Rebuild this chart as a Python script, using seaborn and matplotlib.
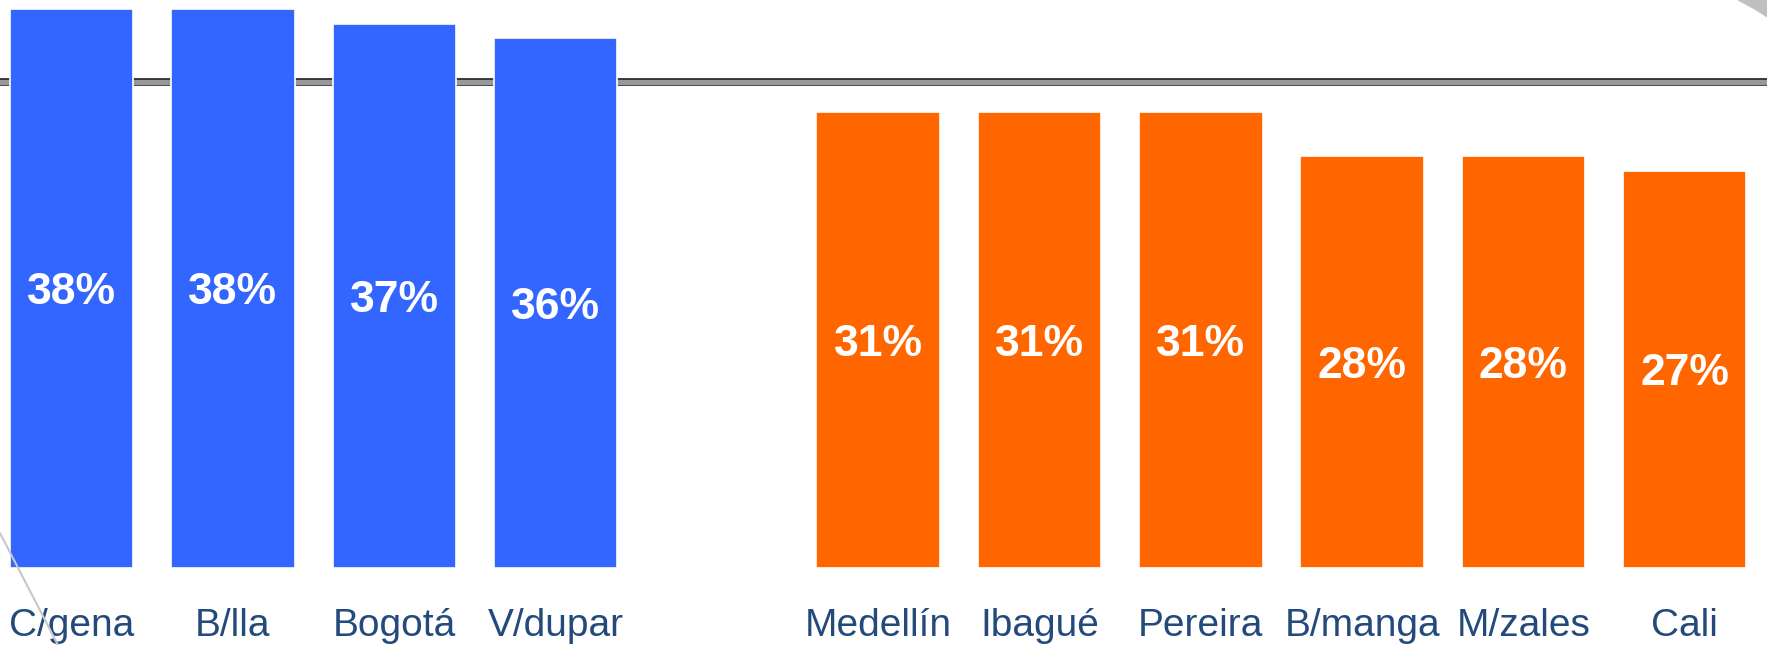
import seaborn as sns
import matplotlib.pyplot as plt
import pandas as pd
from matplotlib.lines import Line2D
from matplotlib.patches import Polygon
import matplotlib.patheffects as pe

# data
cities_blue = ["C/gena", "B/lla", "Bogotá", "V/dupar"]
values_blue = [38, 38, 37, 36]
cities_orange = ["Medellín", "Ibagué", "Pereira", "B/manga", "M/zales", "Cali"]
values_orange = [31, 31, 31, 28, 28, 27]
ref_level = 33

df = pd.DataFrame({
    "city": cities_blue + cities_orange,
    "value": values_blue + values_orange,
    "group": ["blue"] * len(cities_blue) + ["orange"] * len(cities_orange),
})
order = cities_blue + [" "] + cities_orange

sns.set_style("white")
plt.rcParams["font.family"] = ["Liberation Sans", "DejaVu Sans"]

fig = plt.figure(figsize=(17.67, 6.45), dpi=100)
ax = fig.add_axes([0, 0.12, 1, 0.88])

sns.barplot(data=df, x="city", y="value", hue="group", order=order,
            palette={"blue": "#3366FF", "orange": "#FF6600"}, saturation=1,
            dodge=False, width=0.765, legend=False, edgecolor="white",
            linewidth=1.2, ax=ax, zorder=2)

# double line across the chart
ax.axhline(ref_level, color="#999999", lw=3.8, zorder=0.5,
           path_effects=[pe.Stroke(linewidth=5.6, foreground="#2a2a2a"), pe.Normal()])

for cont in ax.containers:
    labels = ax.bar_label(cont, fmt="{:.0f}%", label_type="center", color="white",
                          fontweight="bold", fontsize=32)
    for t in labels:
        t.set_va("center_baseline")

ax.set_xlim(-0.444, 10.51)
ax.set_ylim(0, 38.6)
ax.set_xlabel("")
ax.set_ylabel("")
ax.set_yticks([])
ax.tick_params(axis="x", length=0, pad=29, labelsize=28, labelcolor="#244A7C")
sns.despine(ax=ax, left=True, bottom=True)

# slide decorations
fig.add_artist(Line2D([0, 0.0328], [0.1736, 0.0], transform=fig.transFigure,
                      color="#c8c8c8", lw=1.5))
fig.add_artist(Polygon([[0.983, 1.0], [1.0, 1.0], [1.0, 0.973], [0.993, 0.985]],
                       closed=True, transform=fig.transFigure, color="#c0c0c0", lw=0))

fig.savefig("out.png", dpi=100)
